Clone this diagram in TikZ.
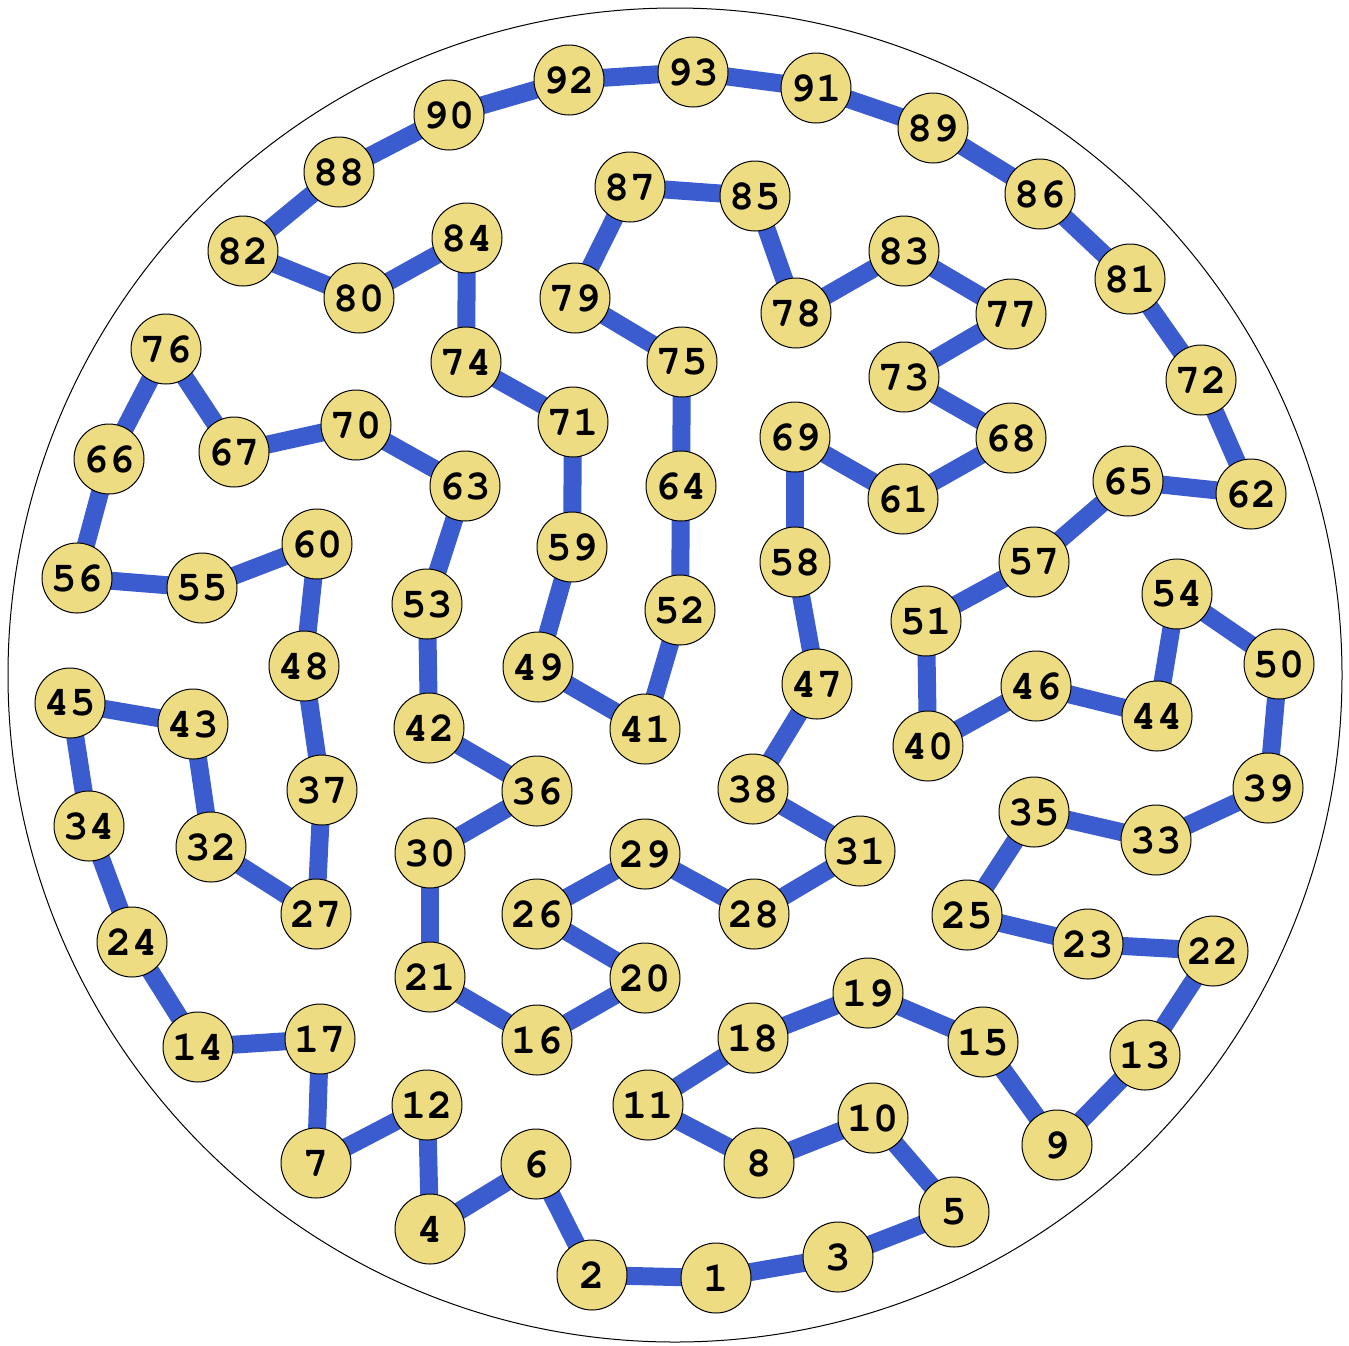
\documentclass[tikz,border=0pt]{standalone}
\usepackage{fontspec}
\setmonofont{TeX Gyre Cursor}
\definecolor{edgeblue}{RGB}{59,92,206}
\definecolor{nodeyellow}{RGB}{238,220,130}
\begin{document}
\begin{tikzpicture}[x=0.5pt,y=-0.5pt,
  vert/.style={circle,draw=black,line width=0.5pt,fill=nodeyellow,minimum size=35pt,inner sep=0pt,font=\ttfamily\bfseries\fontsize{21}{21}\selectfont},
  link/.style={draw=edgeblue,line width=9pt}]
\useasboundingbox (0,0) rectangle (1349,1345);
\draw[line width=0.5pt] (675,675) circle[radius=333.5pt];
\foreach \n/\x/\y in {1/716/1278,2/592/1275,3/838/1257,4/430/1229,5/954/1212,6/536/1164,7/316/1163,8/759/1163,9/1057/1145,10/873/1118,11/648/1105,12/427/1105,13/1145/1055,14/198/1047,15/983/1042,16/537/1040,17/320/1039,18/753/1038,19/868/993,20/645/978,21/430/977,22/1213/951,23/1088/944,24/132/942,25/967/915,26/537/914,27/316/914,28/754/914,29/645/854,30/430/853,31/860/851,32/211/847,33/1156/840,34/89/826,35/1034/812,36/537/791,37/322/790,38/753/789,39/1268/788,40/928/746,41/645/729,42/429/728,43/193/724,44/1157/716,45/70/703,46/1036/686,47/817/684,48/304/666,49/538/667,50/1279/664,51/926/621,52/680/610,53/427/604,54/1177/594,55/202/588,56/77/578,57/1034/562,58/795/562,59/572/547,60/317/544,61/903/499,62/1251/494,63/465/486,64/681/486,65/1128/481,66/109/459,67/234/452,68/1011/438,69/795/437,70/356/425,71/573/422,72/1201/380,73/904/377,74/466/362,75/682/362,76/166/349,77/1011/314,78/796/313,79/575/298,80/359/298,81/1130/279,82/243/251,83/904/251,84/467/238,85/755/196,86/1040/194,87/630/187,88/339/172,89/933/128,90/449/115,91/816/88,92/569/80,93/693/72}
  \coordinate (c\n) at (\x,\y);
\foreach \a/\b in {1/2,2/6,6/4,4/12,12/7,7/17,17/14,14/24,24/34,34/45,45/43,43/32,32/27,27/37,37/48,48/60,60/55,55/56,56/66,66/76,76/67,67/70,70/63,63/53,53/42,42/36,36/30,30/21,21/16,16/20,20/26,26/29,29/28,28/31,31/38,38/47,47/58,58/69,69/61,61/68,68/73,73/77,77/83,83/78,78/85,85/87,87/79,79/75,75/64,64/52,52/41,41/49,49/59,59/71,71/74,74/84,84/80,80/82,82/88,88/90,90/92,92/93,93/91,91/89,89/86,86/81,81/72,72/62,62/65,65/57,57/51,51/40,40/46,46/44,44/54,54/50,50/39,39/33,33/35,35/25,25/23,23/22,22/13,13/9,9/15,15/19,19/18,18/11,11/8,8/10,10/5,5/3,3/1}
  \draw[link] (c\a) -- (c\b);
\foreach \n in {1,...,93}
  \node[vert] (v\n) at (c\n) {\n};
\end{tikzpicture}
\end{document}
